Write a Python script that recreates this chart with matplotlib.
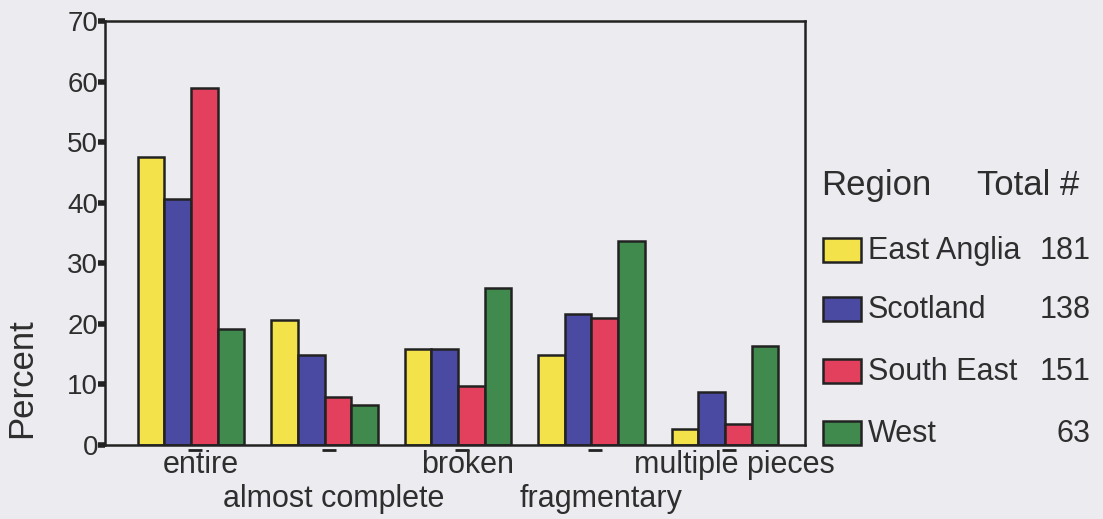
import matplotlib
matplotlib.use('Agg')
import matplotlib.pyplot as plt
from matplotlib.patches import Rectangle
import numpy as np

plt.rcParams['font.family'] = ['Liberation Sans', 'DejaVu Sans']

# Data
categories = ['entire', 'almost complete', 'broken', 'fragmentary', 'multiple pieces']
regions = ['East Anglia', 'Scotland', 'South East', 'West']
totals = ['181', '138', '151', '63']
east_anglia = [47.6, 20.6, 15.8, 14.9, 2.7]
scotland = [40.6, 14.9, 15.8, 21.7, 8.8]
south_east = [59.0, 8.0, 9.8, 20.9, 3.5]
west = [19.2, 6.6, 25.9, 33.7, 16.3]
series = [east_anglia, scotland, south_east, west]
colors = ['#f3e24a', '#4b4aa2', '#e2405c', '#3f8a4c']

bg = '#ebebf0'
ink = '#2e2e2e'
W, H = 1103, 519

fig = plt.figure(figsize=(W / 100, H / 100), dpi=100, facecolor=bg)
ax = fig.add_axes([105 / W, 74 / H, 700 / W, 424 / H])
ax.set_facecolor(bg)

x = np.arange(len(categories))
w = 0.2
for i, (vals, c) in enumerate(zip(series, colors)):
    ax.bar(x + (i - 1.5) * w, vals, w, color=c, edgecolor='#222222', linewidth=1.8)

ax.set_xlim(-0.645, 4.6)
ax.set_ylim(0, 70)
for s in ax.spines.values():
    s.set_linewidth(1.8)
    s.set_color('#222222')

ax.set_yticks(range(0, 71, 10))
ax.tick_params(axis='y', direction='out', length=5, width=4, color='#222222',
               labelsize=20, labelcolor=ink, pad=0)
ax.set_xticks([])

# little dashes under the axis at the category positions
ax.plot(x + 0.03, np.full(len(x), -0.012), marker='_', markersize=10, markeredgewidth=2,
        linestyle='none', color='#222222', transform=ax.get_xaxis_transform(),
        clip_on=False)

# staggered category labels
for i, cat in enumerate(categories):
    yy = -0.066 if i % 2 == 0 else -0.146
    ax.text(x[i] + 0.07, yy, cat, transform=ax.get_xaxis_transform(),
            ha='center', va='baseline', fontsize=22, color=ink)

fig.text(22 / W, 1 - 378 / H, 'Percent', rotation=90, ha='center', va='center',
         fontsize=25, color=ink)

# legend drawn by hand
fig.text(821 / W, 1 - 195 / H, 'Region', ha='left', va='baseline',
         fontsize=25, color=ink)
fig.text(1079 / W, 1 - 195 / H, 'Total #', ha='right', va='baseline',
         fontsize=25, color=ink)
row_base = [259, 318, 380, 442]
for name, tot, c, yb in zip(regions, totals, colors, row_base):
    fig.add_artist(Rectangle((823 / W, 1 - (yb + 3) / H), 38 / W, 24 / H,
                             transform=fig.transFigure, facecolor=c,
                             edgecolor='#222222', linewidth=1.8))
    fig.text(868 / W, 1 - yb / H, name, ha='left', va='baseline',
             fontsize=22, color=ink)
    fig.text(1091 / W, 1 - yb / H, tot, ha='right', va='baseline',
             fontsize=22, color=ink)

fig.savefig('out.png', dpi=100, facecolor=bg)
plt.close(fig)
